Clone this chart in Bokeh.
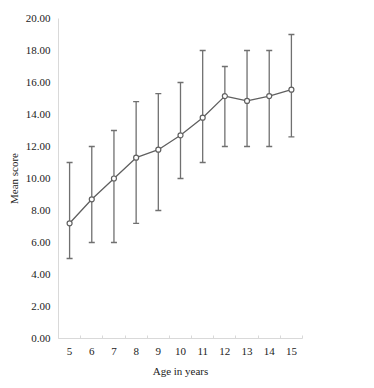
from bokeh.plotting import figure
from bokeh.models import FixedTicker, Range1d, ColumnDataSource, Whisker, TeeHead, NumeralTickFormatter
from bokeh.embed import file_html
from bokeh.resources import INLINE

ages = [5, 6, 7, 8, 9, 10, 11, 12, 13, 14, 15]
mean_score = [7.2, 8.7, 10.0, 11.3, 11.8, 12.7, 13.8, 15.15, 14.85, 15.15, 15.55]
upper = [11.0, 12.0, 13.0, 14.8, 15.3, 16.0, 18.0, 17.0, 18.0, 18.0, 19.0]
lower = [5.0, 6.0, 6.0, 7.2, 8.0, 10.0, 11.0, 12.0, 12.0, 12.0, 12.6]
y_ticks = [0, 2, 4, 6, 8, 10, 12, 14, 16, 18, 20]

FONT = "Liberation Serif"
GRAY = "#606060"
AXIS = "#d9d9d9"

src = ColumnDataSource(dict(x=ages, y=mean_score, upper=upper, lower=lower))

p = figure(width=374, height=388, output_backend="svg", toolbar_location=None,
           x_range=Range1d(4.5, 15.5), y_range=Range1d(0, 20),
           min_border_left=58, min_border_right=72, min_border_top=18, min_border_bottom=50)
p.outline_line_color = None
p.xgrid.visible = False
p.ygrid.visible = False

w = Whisker(source=src, base="x", upper="upper", lower="lower",
            line_color="#707070", line_width=1.3,
            upper_head=TeeHead(size=6, line_color="#707070", line_width=1.3),
            lower_head=TeeHead(size=6, line_color="#707070", line_width=1.3))
p.add_layout(w)

p.line("x", "y", source=src, line_color=GRAY, line_width=1.3)
p.scatter("x", "y", source=src, size=5, marker="circle", fill_color="white", line_color=GRAY, line_width=1.2)

xa = p.xaxis[0]
xa.ticker = FixedTicker(ticks=ages, minor_ticks=[a - 0.5 for a in ages] + [15.5])
xa.axis_line_color = AXIS
xa.major_tick_line_color = None
xa.major_tick_out = 0
xa.major_tick_in = 0
xa.minor_tick_line_color = AXIS
xa.minor_tick_in = 3
xa.minor_tick_out = 0
xa.major_label_standoff = 9
xa.major_label_text_font = FONT
xa.major_label_text_font_size = "11px"
xa.major_label_text_color = "#222222"
xa.axis_label = "Age in years"
xa.axis_label_text_font = FONT
xa.axis_label_text_font_size = "11px"
xa.axis_label_text_font_style = "normal"
xa.axis_label_text_color = "#222222"
xa.axis_label_standoff = 7

ya = p.yaxis[0]
ya.ticker = FixedTicker(ticks=y_ticks)
ya.formatter = NumeralTickFormatter(format="0.00")
ya.axis_line_color = AXIS
ya.major_tick_line_color = None
ya.minor_tick_line_color = None
ya.major_tick_out = 0
ya.major_tick_in = 0
ya.major_label_standoff = 8
ya.major_label_text_font = FONT
ya.major_label_text_font_size = "11px"
ya.major_label_text_color = "#222222"
ya.axis_label = "Mean score"
ya.axis_label_text_font = FONT
ya.axis_label_text_font_size = "11px"
ya.axis_label_text_font_style = "normal"
ya.axis_label_text_color = "#222222"
ya.axis_label_standoff = 3

open("out.html", "w").write(file_html(p, INLINE))
